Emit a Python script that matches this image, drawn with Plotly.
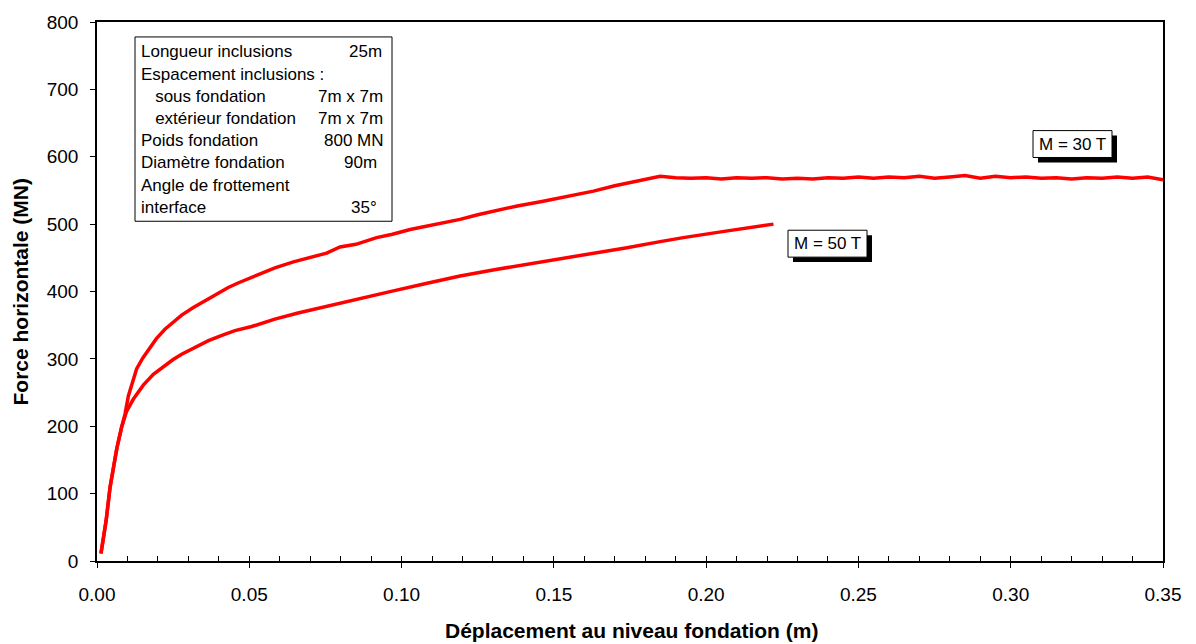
import plotly.graph_objects as go

# ---- data ----
x_m30 = [0.0013, 0.0030, 0.0043, 0.0065, 0.0081, 0.0092, 0.0103, 0.0115, 0.0130, 0.0150,
         0.0169, 0.0195, 0.0223, 0.0250, 0.0278, 0.0315, 0.0355, 0.0395, 0.0431, 0.0465,
         0.0497, 0.0535, 0.0584, 0.0645, 0.0700, 0.0754, 0.0798, 0.0850, 0.0918, 0.0970,
         0.1028, 0.1100, 0.1192, 0.1250, 0.1301, 0.1380, 0.1465, 0.1550, 0.1630, 0.1700,
         0.1780, 0.1849, 0.190, 0.195, 0.200, 0.205, 0.210, 0.215, 0.220, 0.225, 0.230,
         0.235, 0.240, 0.245, 0.250, 0.255, 0.260, 0.265, 0.270, 0.275, 0.280, 0.285,
         0.290, 0.295, 0.300, 0.305, 0.310, 0.315, 0.320, 0.325, 0.330, 0.335, 0.340,
         0.345, 0.350]
y_m30 = [11, 60, 110, 167, 199, 218, 245, 265, 285, 301,
         313, 330, 344, 355, 365, 376, 386, 397, 406, 413,
         419, 426, 435, 444, 450, 457, 466, 470, 480, 485,
         492, 499, 507, 514, 519, 527, 534, 542, 549, 557,
         565, 571, 569, 568, 569, 567, 569, 568, 569, 567, 568,
         567, 569, 568, 570, 568, 570, 569, 571, 568, 570, 572,
         568, 571, 569, 570, 568, 569, 567, 569, 568, 570, 568,
         570, 566]

x_m50 = [0.0013, 0.0030, 0.0043, 0.0065, 0.0081, 0.0097, 0.0119, 0.0152, 0.0185, 0.0218,
         0.0250, 0.0278, 0.0320, 0.0366, 0.0410, 0.0453, 0.0508, 0.0584, 0.0660, 0.0754,
         0.0860, 0.0973, 0.1080, 0.1192, 0.1300, 0.1411, 0.1520, 0.1630, 0.1740, 0.1849,
         0.1925, 0.2070, 0.2221]
y_m50 = [11, 60, 110, 167, 199, 222, 240, 261, 277, 289,
         299, 307, 317, 327, 335, 342, 348, 359, 368, 378,
         390, 401, 412, 423, 432, 440, 448, 456, 465, 474,
         480, 490, 500]

x_ticks = [0.00, 0.05, 0.10, 0.15, 0.20, 0.25, 0.30, 0.35]
y_ticks = [0, 100, 200, 300, 400, 500, 600, 700, 800]

info_left = ["Longueur inclusions", "Espacement inclusions :", "\u00a0\u00a0\u00a0sous fondation",
             "\u00a0\u00a0\u00a0extérieur fondation", "Poids fondation", "Diamètre fondation",
             "Angle de frottement", "interface"]
info_right = ["25m", "", "7m x 7m", "7m x 7m", "800 MN", "90m", "", "35°"]

curve_labels = ["M = 30 T", "M = 50 T"]

# ---- layout geometry (pixels) ----
W, H = 1196, 644
L, R, T, B = 97, 1163, 20, 561
FONT = "Arial, Liberation Sans, sans-serif"


def px(xp):
    return (xp - L) / (R - L)


def py(yp):
    return (B - yp) / (B - T)


fig = go.Figure()
for xs, ys in [(x_m30, y_m30), (x_m50, y_m50)]:
    fig.add_trace(go.Scatter(x=xs, y=ys, mode="lines",
                             line=dict(color="#FF0000", width=3.5),
                             showlegend=False, hoverinfo="skip"))
# helper trace for the minor tick axis
fig.add_trace(go.Scatter(x=[], y=[], xaxis="x2", showlegend=False))

fig.update_layout(
    width=W, height=H,
    margin=dict(l=L, r=W - R, t=T, b=H - B, pad=0),
    plot_bgcolor="white", paper_bgcolor="white",
    font=dict(family=FONT, color="black"),
    xaxis=dict(range=[0, 0.35], tickvals=x_ticks, tickformat=".2f",
               ticks="outside", ticklen=5, tickcolor="black", tickwidth=1,
               showline=True, linecolor="black", linewidth=1.5, mirror=True,
               showgrid=False, zeroline=False, tickfont=dict(size=19),
               ticklabelstandoff=10),
    xaxis2=dict(range=[0, 0.35], overlaying="x", side="bottom", anchor="y",
                dtick=0.01, tick0=0, ticks="inside", ticklen=5, tickcolor="black",
                tickwidth=1, showticklabels=False, showgrid=False, zeroline=False,
                showline=False),
    yaxis=dict(range=[0, 800], tickvals=y_ticks,
               ticks="outside", ticklen=5, tickcolor="black", tickwidth=1,
               showline=True, linecolor="black", linewidth=1.5, mirror=True,
               showgrid=False, zeroline=False, tickfont=dict(size=19),
               ticklabelstandoff=8),
)

# axis titles
fig.add_annotation(text="<b>Déplacement au niveau fondation (m)</b>", xref="paper", yref="paper",
                   x=px(631.5), y=py(631), xanchor="center", yanchor="middle",
                   showarrow=False, font=dict(size=21, family=FONT))
fig.add_annotation(text="<b>Force horizontale (MN)</b>", xref="paper", yref="paper",
                   x=px(20), y=py(290.5), xanchor="center", yanchor="middle", textangle=-90,
                   showarrow=False, font=dict(size=21, family=FONT))

# info box
fig.add_shape(type="rect", xref="paper", yref="paper",
              x0=px(135), x1=px(392), y0=py(220), y1=py(35),
              line=dict(color="black", width=1), fillcolor="white", layer="above")
line_y0, line_dy = 50, 22.3
right_x = [348, None, 317, 317, 323, 343, None, 350]
for i, (lt, rt) in enumerate(zip(info_left, info_right)):
    yy = py(line_y0 + i * line_dy)
    fig.add_annotation(text=lt, xref="paper", yref="paper", x=px(139), y=yy,
                       xanchor="left", yanchor="middle", showarrow=False,
                       font=dict(size=17, family=FONT))
    if rt:
        fig.add_annotation(text=rt, xref="paper", yref="paper", x=px(right_x[i] - 1), y=yy,
                           xanchor="left", yanchor="middle", showarrow=False,
                           font=dict(size=17, family=FONT))

# curve labels: shadow box, white bordered box, text
label_boxes = [(1033, 129, 1112, 156), (788, 229, 867, 256)]
for txt, (x0, y0, x1, y1) in zip(curve_labels, label_boxes):
    fig.add_shape(type="rect", xref="paper", yref="paper",
                  x0=px(x0 + 5), x1=px(x1 + 5), y0=py(y1 + 5), y1=py(y0 + 5),
                  line=dict(color="black", width=0), fillcolor="black", layer="above")
    fig.add_shape(type="rect", xref="paper", yref="paper",
                  x0=px(x0), x1=px(x1), y0=py(y1), y1=py(y0),
                  line=dict(color="black", width=1), fillcolor="white", layer="above")
    fig.add_annotation(text=txt, xref="paper", yref="paper",
                       x=px((x0 + x1) / 2), y=py((y0 + y1) / 2),
                       xanchor="center", yanchor="middle", showarrow=False,
                       font=dict(size=17, family=FONT, color="black"))

fig.write_html("out.html")
